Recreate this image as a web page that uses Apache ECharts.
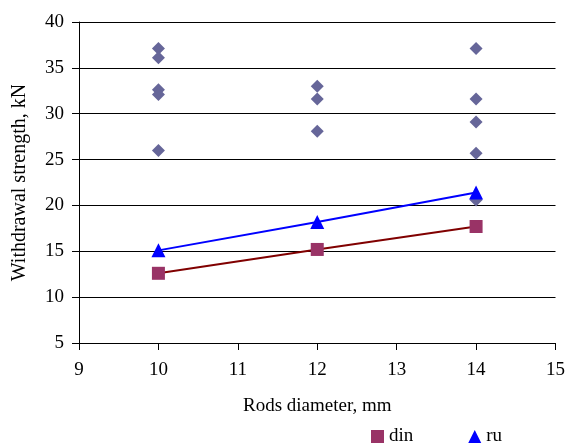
<!DOCTYPE html>
<html><head><meta charset="utf-8">
<script src="https://cdn.jsdelivr.net/npm/echarts@6/dist/echarts.min.js"></script>
<style>html,body{margin:0;padding:0;background:#fff}#c{width:568px;height:448px}</style>
</head><body><div id="c"></div>
<script>
const xTicks = [9, 10, 11, 12, 13, 14, 15];
const yTicks = [5, 10, 15, 20, 25, 30, 35, 40];
const testX = [10, 10, 10, 10, 10, 12, 12, 12, 14, 14, 14, 14, 14];
const testY = [37.1, 36.1, 32.6, 32.1, 26.0, 33.0, 31.6, 28.1, 37.1, 31.6, 29.1, 25.7, 20.6];
const diamX = [10, 12, 14];
const dinY = [12.6, 15.2, 17.7];
const ruY = [15.1, 18.2, 21.4];

const font = 'Liberation Serif, Times New Roman, serif';
const chart = echarts.init(document.getElementById('c'));
chart.setOption({
  animation: false,
  textStyle: {fontFamily: font},
  grid: {left: 79, right: 11, top: 22, bottom: 105},
  legend: {
    data: [{name: 'din', icon: 'rect'}, {name: 'ru', icon: 'triangle'}],
    bottom: 2, left: 371, padding: 0, itemWidth: 13, itemHeight: 13, itemGap: 55,
    textStyle: {fontFamily: font, fontSize: 19, color: '#000'}
  },
  xAxis: {
    type: 'value', min: xTicks[0], max: xTicks[xTicks.length - 1], interval: 1,
    name: 'Rods diameter, mm', nameLocation: 'middle', nameGap: 54,
    nameTextStyle: {fontFamily: font, fontSize: 19, color: '#000'},
    axisLine: {show: true, lineStyle: {color: '#000', width: 1}},
    axisTick: {show: true, inside: false, length: 7, lineStyle: {color: '#000'}},
    axisLabel: {fontFamily: font, fontSize: 19, color: '#000', margin: 18},
    splitLine: {show: false}
  },
  yAxis: {
    type: 'value', min: yTicks[0], max: yTicks[yTicks.length - 1], interval: 5,
    name: 'Withdrawal strength, kN', nameLocation: 'middle', nameGap: 49, nameRotate: 90,
    nameTextStyle: {fontFamily: font, fontSize: 20, color: '#000'},
    axisLine: {show: true, lineStyle: {color: '#000', width: 1}},
    axisTick: {show: true, inside: false, length: 7, lineStyle: {color: '#000'}},
    axisLabel: {fontFamily: font, fontSize: 19, color: '#000', margin: 15},
    splitLine: {show: true, lineStyle: {color: '#000', width: 1}}
  },
  graphic: [{type: 'rect', shape: {x: 0, y: 0, width: 33, height: 85}, style: {fill: '#fff'}, z: 100}],
  series: [
    {
      name: 'tests', type: 'scatter', symbol: 'diamond', symbolSize: 13,
      itemStyle: {color: '#666699', opacity: 1},
      data: testX.map((x, i) => [x, testY[i]]), z: 2
    },
    {
      name: 'din', type: 'line', symbol: 'rect', symbolSize: 13,
      lineStyle: {color: '#800000', width: 2},
      itemStyle: {color: '#993366'},
      data: diamX.map((x, i) => [x, dinY[i]]), z: 3
    },
    {
      name: 'ru', type: 'line', symbol: 'triangle', symbolSize: 14,
      lineStyle: {color: '#0000ff', width: 2},
      itemStyle: {color: '#0000ff'},
      data: diamX.map((x, i) => [x, ruY[i]]), z: 4
    }
  ]
});
</script></body></html>
